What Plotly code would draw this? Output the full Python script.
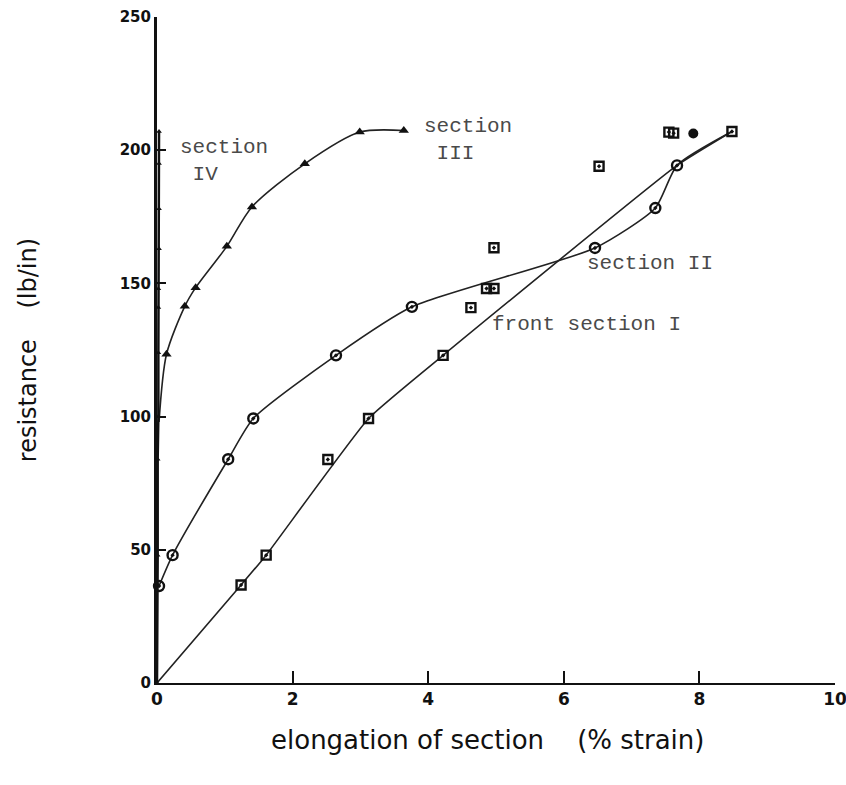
import plotly.graph_objects as go

# ---- data ----
# front section I (squares)
sec1_x = [0.0, 1.24, 1.61, 3.12, 4.22]
sec1_y = [0.0, 36.8, 48.0, 99.3, 123.0]
# shared end point of sections I and II (square)
end_x = [8.48]
end_y = [207.0]
# section II (circles)
sec2_x = [0.03, 0.23, 1.05, 1.42, 2.64, 3.76, 6.46, 7.35, 7.67]
sec2_y = [36.4, 48.0, 84.0, 99.3, 123.0, 141.2, 163.3, 178.3, 194.3]
# section III (triangles)
sec3_x = [0.03, 0.14, 0.41, 0.57, 1.03, 1.40, 2.18, 2.99, 3.64]
sec3_y = [98.0, 123.4, 141.4, 148.4, 163.9, 178.7, 194.9, 206.8, 207.4]
# section IV (along the strain = 0 axis)
sec4_x = [0.0, 0.01, 0.01, 0.01, 0.02, 0.02, 0.02, 0.02, 0.03, 0.03, 0.03, 0.03]
sec4_y = [0.0, 37.0, 48.0, 84.0, 100.0, 124.0, 141.0, 148.0, 163.0, 178.0, 195.0, 207.0]
# unconnected scattered squares
scat_x = [2.52, 4.63, 4.86, 4.97, 4.97, 6.52, 7.55, 7.62]
scat_y = [83.9, 140.9, 148.1, 148.1, 163.4, 194.0, 206.8, 206.4]
# unconnected filled circle
dot_x = [7.91]
dot_y = [206.3]

x_ticks = [0, 2, 4, 6, 8, 10]
y_ticks = [0, 50, 100, 150, 200, 250]

LINE = "#222222"
fig = go.Figure()

# section I line (through the junction circle to the end square)
fig.add_trace(go.Scatter(
    x=sec1_x + [sec2_x[-1]] + end_x, y=sec1_y + [sec2_y[-1]] + end_y,
    mode="lines", line=dict(color=LINE, width=1.6, shape="spline", smoothing=0.4),
    hoverinfo="skip", cliponaxis=False))
# section II line
fig.add_trace(go.Scatter(
    x=sec2_x + end_x, y=sec2_y + end_y,
    mode="lines", line=dict(color=LINE, width=1.6, shape="spline", smoothing=0.6),
    hoverinfo="skip", cliponaxis=False))
# section III line
fig.add_trace(go.Scatter(
    x=sec3_x, y=sec3_y,
    mode="lines", line=dict(color=LINE, width=1.6, shape="spline", smoothing=0.8),
    hoverinfo="skip", cliponaxis=False))
# section IV
fig.add_trace(go.Scatter(
    x=sec4_x, y=sec4_y, mode="lines+markers",
    line=dict(color="#111111", width=2.5),
    marker=dict(symbol="triangle-up", size=5, color="#111111"),
    cliponaxis=False))

# markers
fig.add_trace(go.Scatter(
    x=sec1_x[1:] + end_x + scat_x, y=sec1_y[1:] + end_y + scat_y, mode="markers",
    marker=dict(symbol="square-open-dot", size=9, color="#111111", line=dict(width=2.4, color="#111111")),
    cliponaxis=False))
fig.add_trace(go.Scatter(
    x=sec2_x, y=sec2_y, mode="markers",
    marker=dict(symbol="circle-open-dot", size=10, color="#111111", line=dict(width=2.4, color="#111111")),
    cliponaxis=False))
fig.add_trace(go.Scatter(
    x=dot_x, y=dot_y, mode="markers",
    marker=dict(symbol="circle", size=10, color="#111111"),
    cliponaxis=False))
fig.add_trace(go.Scatter(
    x=sec3_x[1:], y=sec3_y[1:], mode="markers",
    marker=dict(symbol="triangle-up", size=9, color="#111111"),
    cliponaxis=False))

mono = dict(family="Liberation Mono, Courier New, monospace", size=21, color="#4a4a4a")
labels = [
    ("section<br>\u00a0IV", 0.31, 196.0),
    ("section<br>\u00a0III", 3.91, 204.0),
    ("section II", 6.31, 157.5),
    ("front section I", 4.91, 134.5),
]
annotations = [dict(text=t, x=x, y=y, xref="x", yref="y", xanchor="left", yanchor="middle",
                    align="left", showarrow=False, font=mono) for t, x, y in labels]

sans = "DejaVu Sans, Verdana, sans-serif"
annotations.append(dict(text="elongation of section\u00a0\u00a0\u00a0\u00a0(% strain)", xref="paper", yref="paper",
                        x=0.488, y=-0.085, xanchor="center", yanchor="middle", showarrow=False,
                        font=dict(family=sans, size=26, color="#111111")))
annotations.append(dict(text="resistance\u00a0\u00a0\u00a0\u00a0(lb/in)", xref="paper", yref="paper",
                        x=-0.19, y=0.5, xanchor="center", yanchor="middle", textangle=-90,
                        showarrow=False, font=dict(family=sans, size=24, color="#111111")))

fig.update_layout(
    width=846, height=785,
    margin=dict(l=157, r=11, t=17, b=102, autoexpand=False),
    paper_bgcolor="white", plot_bgcolor="white",
    showlegend=False,
    annotations=annotations,
    xaxis=dict(range=[0, 10], tickvals=x_ticks, ticktext=[str(v) for v in x_ticks],
               automargin=False, ticklabeloverflow="allow",
               showgrid=False, zeroline=False, showline=True, linecolor="#111111", linewidth=2,
               ticks="inside", ticklen=12, tickwidth=2, tickcolor="#111111",
               tickfont=dict(family=sans, size=17, color="#111111", weight="bold")),
    yaxis=dict(range=[0, 250], tickvals=y_ticks, ticktext=[str(v) for v in y_ticks],
               automargin=False, ticklabeloverflow="allow",
               showgrid=False, zeroline=False, showline=True, linecolor="#111111", linewidth=3,
               ticks="inside", ticklen=9, tickwidth=2, tickcolor="#111111",
               tickfont=dict(family=sans, size=15, color="#111111", weight="bold")),
)

# remove the default page margin so the 846x785 figure fills the window exactly
fig.write_html("out.html", config={"displayModeBar": False},
               post_script="document.body.style.margin='0';document.body.style.overflow='hidden';")
